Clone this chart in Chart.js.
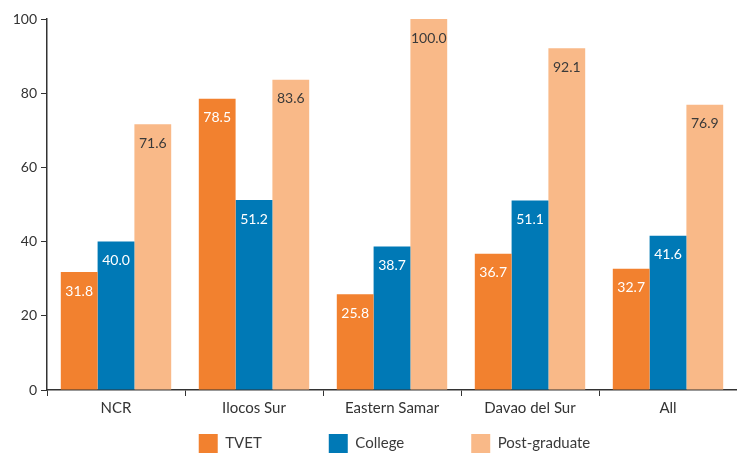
<!DOCTYPE html>
<html>
<head>
<meta charset="utf-8">
<script src="https://cdn.jsdelivr.net/npm/chart.js@4.4.0/dist/chart.umd.min.js"></script>
<style>
  html, body { margin: 0; padding: 0; background: #fff; }
  #wrap { width: 737px; height: 455px; }
</style>
</head>
<body>
<div id="wrap"><canvas id="Grafica"></canvas></div>
<script>
const regions = ["NCR", "Ilocos Sur", "Eastern Samar", "Davao del Sur", "All"];
const tvet = [31.8, 78.5, 25.8, 36.7, 32.7];
const college = [40.0, 51.2, 38.7, 51.1, 41.6];
const postgrad = [71.6, 83.6, 100.0, 92.1, 76.9];

const ejeColor = "#333333";
const leyendaPad = 67;

// writes each value inside the top of its bar
const etiquetas = {
	id: "etiquetas",
	afterDatasetsDraw(chart) {
		const ctx = chart.ctx;
		ctx.save();
		ctx.font = "14px Lato";
		ctx.textAlign = "center";
		ctx.textBaseline = "middle";
		chart.data.datasets.forEach((ds, i) => {
			const meta = chart.getDatasetMeta(i);
			meta.data.forEach((bar, j) => {
				ctx.fillStyle = i === 2 ? "#3a3a3a" : "#ffffff";
				ctx.fillText(ds.data[j].toFixed(1), bar.x, bar.y + 19);
			});
		});
		ctx.restore();
	}
};

// the wide item spacing also pads the legend vertically, so move the box
// back down under the axis labels and a bit right
const moverLeyenda = {
	id: "moverLeyenda",
	afterLayout(chart) {
		const lg = chart.legend;
		lg.top = 434 - leyendaPad;
		lg.left += 26;
		lg.right += 26;
	}
};

const ctx = document.getElementById("Grafica").getContext("2d");
let Grafica = new Chart(ctx, {
	type: "bar",
	data: {
		labels: regions,
		datasets: [
			{
				label: "TVET",
				data: tvet,
				backgroundColor: "#F2812F",
			},
			{
				label: "College",
				data: college,
				backgroundColor: "#0079B6",
			},
			{
				label: "Post-graduate",
				data: postgrad,
				backgroundColor: "#F9B988",
			}
		],
	},
	options: {
		responsive: true,
		maintainAspectRatio: false,
		animation: false,
		layout: {
			padding: { top: 19, right: 0, left: 0, bottom: 0 }
		},
		datasets: {
			bar: { categoryPercentage: 0.8, barPercentage: 1.0 }
		},
		plugins: {
			tooltip: { enabled: false },
			legend: {
				position: "bottom",
				maxHeight: 35,
				labels: {
					boxWidth: 19,
					boxHeight: 19,
					padding: leyendaPad,
					color: "#3a3a3a",
					font: { size: 15, family: "Lato" }
				}
			}
		},
		scales: {
			y: {
				min: 0,
				max: 100,
				afterFit(scale) { scale.width = 47; },
				border: { color: ejeColor, width: 1.5 },
				grid: {
					drawOnChartArea: false,
					drawTicks: true,
					tickLength: 6,
					color: ejeColor
				},
				ticks: {
					stepSize: 20,
					color: "#333",
					padding: 4,
					font: { size: 14, family: "Lato" }
				}
			},
			x: {
				border: { color: ejeColor, width: 1.5 },
				grid: {
					offset: true,
					drawOnChartArea: false,
					drawTicks: true,
					tickLength: 6,
					color: ejeColor
				},
				ticks: {
					color: "#333",
					padding: 3,
					font: { size: 15, family: "Lato" }
				}
			}
		}
	},
	plugins: [etiquetas, moverLeyenda]
});
</script>
</body>
</html>
